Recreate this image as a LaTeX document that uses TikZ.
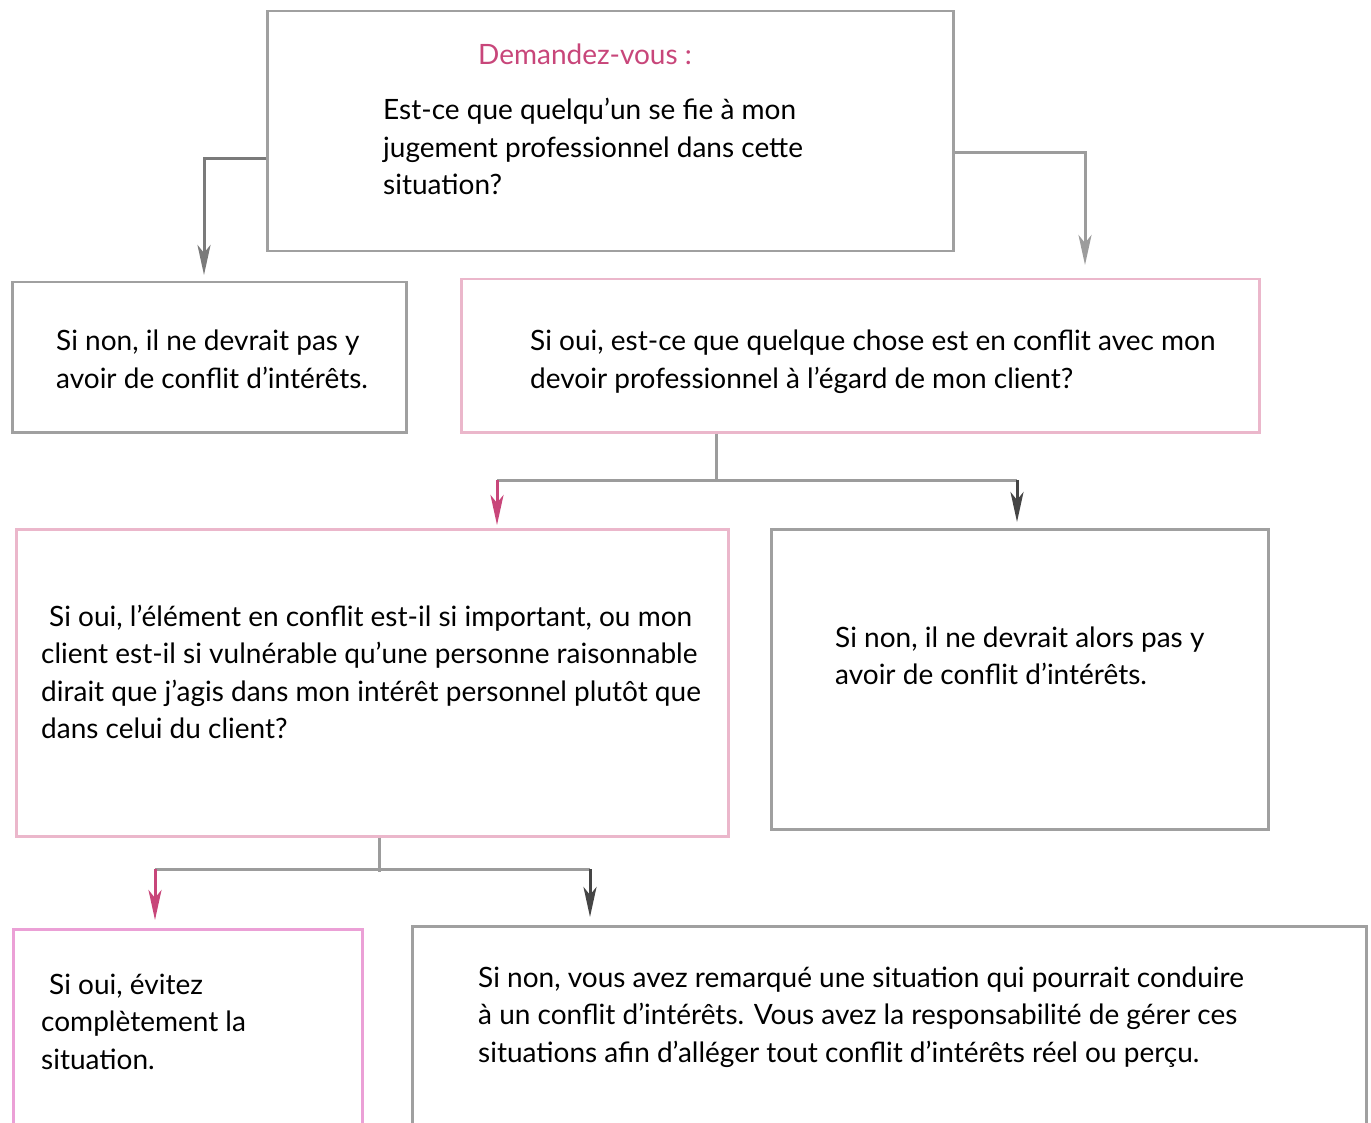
\documentclass[tikz,border=0pt]{standalone}
\usepackage{fontspec}
\setmainfont{Lato}
\usetikzlibrary{arrows.meta,calc}
\definecolor{boxgray}{HTML}{A0A0A0}
\definecolor{boxpink}{HTML}{EBB7CB}
\definecolor{boxmag}{HTML}{EBA0D6}
\definecolor{arrpink}{HTML}{C8467A}
\definecolor{arrdark}{HTML}{454545}
\definecolor{linemid}{HTML}{7A7A7A}
\definecolor{linelight}{HTML}{9C9C9C}
\tikzset{
  x=1pt, y=-1pt,
  box/.style={draw, line width=2.5pt, anchor=north west, inner sep=0pt, fill=white},
  graybox/.style={box, draw=boxgray},
  pinkbox/.style={box, draw=boxpink},
  magbox/.style={box, draw=boxmag},
  txt/.style={anchor=base west, inner sep=0pt, font=\fontsize{28}{37.5}\selectfont},
  conn/.style={line width=3pt, draw=linelight},
  tip/.style={-{Stealth[length=30pt,width=13pt,inset=8pt]}},
}
\newcommand\textlines[4]{% name, x, first baseline, lines
  \foreach [count=\i] \l in {#4} {
    \node[txt] (#1-\i) at (#2,{#3+37.5*(\i-1)}) {\l};
  }%
}
\begin{document}
\begin{tikzpicture}
\useasboundingbox (0,0) rectangle (1371,1123);
\clip (0,0) rectangle (1371,1123);
% boxes
\node[graybox, minimum width=686pt, minimum height=240pt] (top) at (266,10) {};
\node[graybox, minimum width=394pt, minimum height=150pt] (b1) at (11,281) {};
\node[pinkbox, minimum width=798pt, minimum height=153pt] (b2) at (460,278) {};
\node[pinkbox, minimum width=712pt, minimum height=307pt] (b3) at (15,528) {};
\node[graybox, minimum width=497pt, minimum height=300pt] (b4) at (770,528) {};
\node[magbox, minimum width=349pt, minimum height=230pt] (b5) at (12,928) {};
\node[graybox, minimum width=954pt, minimum height=230pt] (b6) at (411,925) {};
% texts
\node[txt, text=arrpink] (t0) at (478,65) {Demandez-vous :};
\textlines{t1}{383}{120}{{Est-ce que quelqu’un se fie à mon},{jugement professionnel dans cette},{situation?}}
\textlines{t2}{56}{351}{{Si non, il ne devrait pas y},{avoir de conflit d’intérêts.}}
\textlines{t3}{530}{351}{{Si oui, est-ce que quelque chose est en conflit avec mon},{devoir professionnel à l’égard de mon client?}}
\textlines{t4}{41}{626}{{\hspace{8pt}Si oui, l’élément en conflit est-il si important, ou mon},{client est-il si vulnérable qu’une personne raisonnable},{dirait que j’agis dans mon intérêt personnel plutôt que},{dans celui du client?}}
\textlines{t5}{835}{647}{{Si non, il ne devrait alors pas y},{avoir de conflit d’intérêts.}}
\textlines{t6}{41}{994}{{\hspace{8pt}Si oui, évitez},{complètement la},{situation.}}
\textlines{t7}{478}{987}{{Si non, vous avez remarqué une situation qui pourrait conduire},{à un conflit d’intérêts. Vous avez la responsabilité de gérer ces},{situations afin d’alléger tout conflit d’intérêts réel ou perçu.}}
% connectors
\coordinate (e1) at (204,275);
\coordinate (e2) at (1085,265);
\draw[conn, draw=linemid, tip] ($(top.north west)+(0,149)$) -| (e1);
\draw[conn, tip] ($(top.north east)+(0,143)$) -| (e2);
\coordinate (j1) at (716,480);
\draw[conn] (b2.south -| j1) -- (j1);
\draw[conn] (497,480) -- (1017,480);
\coordinate (e3) at (497,525);
\coordinate (e4) at (1017,522);
\draw[conn, draw=arrpink, tip] (497,480) -- (e3);
\draw[conn, draw=arrdark, tip] (1017,480) -- (e4);
\coordinate (j2) at (379,869);
\draw[conn] (b3.south -| j2) -- ($(j2)+(0,3)$);
\draw[conn] (155,869) -- (590,869);
\coordinate (e5) at (155,920);
\coordinate (e6) at (590,917);
\draw[conn, draw=arrpink, tip] (155,869) -- (e5);
\draw[conn, draw=arrdark, tip] (590,869) -- (e6);
\end{tikzpicture}
\end{document}
